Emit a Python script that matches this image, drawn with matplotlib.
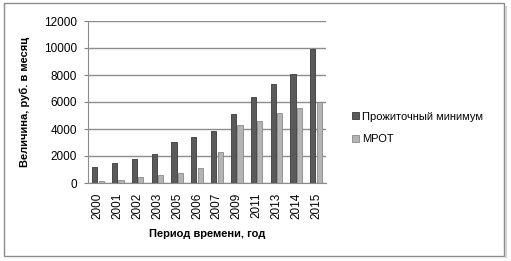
import matplotlib
matplotlib.use("Agg")
import matplotlib.pyplot as plt
import numpy as np
from matplotlib.patches import Rectangle

years = ["2000", "2001", "2002", "2003", "2005", "2006", "2007", "2009", "2011", "2013", "2014", "2015"]
subsistence = [1210, 1500, 1808, 2112, 3018, 3422, 3847, 5083, 6369, 7306, 8050, 9950]
mrot = [132, 200, 450, 600, 720, 1100, 2300, 4330, 4611, 5205, 5554, 5965]

plt.rcParams['font.family'] = ['Liberation Sans', 'DejaVu Sans']
W, H = 511, 261
fig = plt.figure(figsize=(W / 100, H / 100), dpi=100)

# outer frame
fig.patches.append(Rectangle((4 / W, 1 - 256 / H), 500 / W, 253 / H, transform=fig.transFigure,
                             fill=False, edgecolor="#8c8c8c", linewidth=1.0))
fig.patches.append(Rectangle((505 / W, 1 - 258 / H), 2 / W, 252 / H, transform=fig.transFigure,
                             facecolor="#d0d0d0", edgecolor="none"))

ax = fig.add_axes([88 / W, 1 - 183 / H, (326 - 88) / W, (183 - 21) / H])
x = np.arange(len(years))
w = 0.26
ax.bar(x - w / 2 - 0.03, subsistence, width=w, color="#5a5a5a", edgecolor="#3a3a3a", linewidth=0.6,
       label="Прожиточный минимум", zorder=3)
ax.bar(x + w / 2 + 0.03, mrot, width=w, color="#b4b4b4", edgecolor="#8a8a8a", linewidth=0.6,
       label="МРОТ", zorder=3)

ax.set_ylim(0, 12000)
ax.set_yticks(range(0, 12001, 2000))
ax.set_xlim(-0.5, len(years) - 0.5)
ax.set_xticks(x)
ax.set_xticklabels(years, rotation=90, fontsize=8.5)
ax.tick_params(axis='y', labelsize=8.5, length=3, color="#808080", pad=5)
ax.tick_params(axis='x', length=0, pad=7)
ax.yaxis.grid(True, color="#8c8c8c", linewidth=1.0, zorder=0)
ax.set_axisbelow(True)
for s in ["top", "right"]:
    ax.spines[s].set_visible(False)
ax.spines["left"].set_color("#8c8c8c")
ax.spines["bottom"].set_color("#8c8c8c")

ax.set_ylabel("Величина, руб. в месяц", fontsize=8, fontweight="bold", labelpad=10)
ax.set_xlabel("Период времени, год", fontsize=8, fontweight="bold", labelpad=7)

ax.legend(loc="center left", bbox_to_anchor=(348 / W, 1 - 128 / H), bbox_transform=fig.transFigure,
          frameon=False, fontsize=8, handlelength=0.6, handleheight=0.6, handletextpad=0.3,
          labelspacing=1.1, borderaxespad=0)

fig.savefig("out.png", dpi=100)
